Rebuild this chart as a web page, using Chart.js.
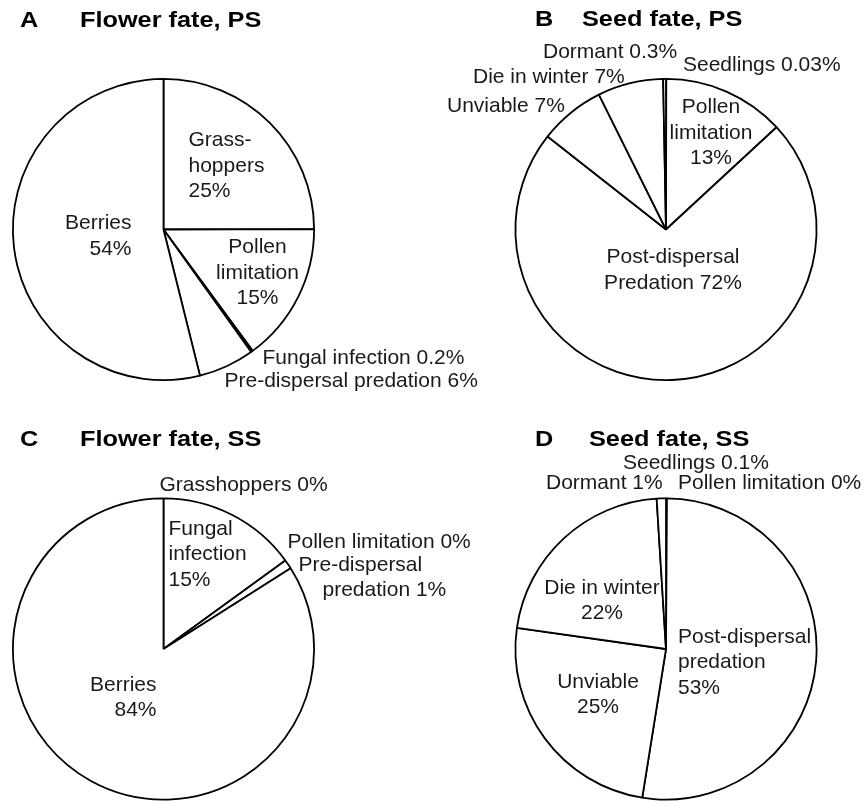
<!DOCTYPE html>
<html>
<head>
<meta charset="utf-8">
<script src="https://cdn.jsdelivr.net/npm/chart.js@4.4.1/dist/chart.umd.min.js"></script>
<style>
  html, body { margin: 0; padding: 0; background: #fff; }
  #fig { position: relative; width: 863px; height: 801px; }
  .panel { position: absolute; left: 0; top: 0; width: 863px; height: 801px; }
</style>
</head>
<body>
<div id="fig">
  <div class="panel"><canvas id="chartA"></canvas></div>
  <div class="panel"><canvas id="chartB"></canvas></div>
  <div class="panel"><canvas id="chartC"></canvas></div>
  <div class="panel"><canvas id="chartD"></canvas></div>
</div>
<script>
// Slices go clockwise from 12 o'clock
const flowerPSCategories = ['Grasshoppers', 'Pollen limitation', 'Fungal infection', 'Pre-dispersal predation', 'Berries'];
const flowerPSValues = [25, 15, 0.2, 6, 54];
const flowerPSText = [['Grass-', 'hoppers', '25%'], ['Pollen', 'limitation', '15%'], ['Fungal infection 0.2%'], ['Pre-dispersal predation 6%'], ['Berries', '54%']];

const seedPSCategories = ['Seedlings', 'Pollen limitation', 'Post-dispersal predation', 'Unviable', 'Die in winter', 'Dormant'];
const seedPSValues = [0.03, 13, 72, 7, 7, 0.3];
const seedPSText = [['Seedlings 0.03%'], ['Pollen', 'limitation', '13%'], ['Post-dispersal', 'Predation 72%'], ['Unviable 7%'], ['Die in winter 7%'], ['Dormant 0.3%']];

const flowerSSCategories = ['Grasshoppers', 'Fungal infection', 'Pollen limitation', 'Pre-dispersal predation', 'Berries'];
const flowerSSValues = [0, 15, 0, 1, 84];
const flowerSSText = [['Grasshoppers 0%'], ['Fungal', 'infection', '15%'], ['Pollen limitation 0%'], ['Pre-dispersal', 'predation 1%'], ['Berries', '84%']];

const seedSSCategories = ['Pollen limitation', 'Seedlings', 'Post-dispersal predation', 'Unviable', 'Die in winter', 'Dormant'];
const seedSSValues = [0, 0.1, 53, 25, 22, 1];
const seedSSText = [['Pollen limitation 0%'], ['Seedlings 0.1%'], ['Post-dispersal', 'predation', '53%'], ['Unviable', '25%'], ['Die in winter', '22%'], ['Dormant 1%']];

// where each label sits, relative to the pie centre
const flowerPSPlaces = [
  { dx: 25, dy: -89, align: 'left' },
  { dx: 94, dy: 18, align: 'center' },
  { dx: 99, dy: 129, align: 'left' },
  { dx: 61, dy: 152, align: 'left' },
  { dx: -32, dy: -6, align: 'right' }
];
const seedPSPlaces = [
  { dx: 17, dy: -164, align: 'left' },
  { dx: 45, dy: -122, align: 'center' },
  { dx: 7, dy: 28, align: 'center' },
  { dx: -219, dy: -123, align: 'left' },
  { dx: -193, dy: -152, align: 'left' },
  { dx: -123, dy: -177, align: 'left' }
];
const flowerSSPlaces = [
  { dx: -4, dy: -164, align: 'left' },
  { dx: 5, dy: -120, align: 'left' },
  { dx: 124, dy: -107, align: 'left' },
  { dx: 135, dy: -84, align: 'left', indent: [0, 24] },
  { dx: -7, dy: 36, align: 'right' }
];
const seedSSPlaces = [
  { dx: 12, dy: -166, align: 'left' },
  { dx: -43, dy: -186, align: 'left' },
  { dx: 12, dy: -12, align: 'left' },
  { dx: -68, dy: 33, align: 'center' },
  { dx: -64, dy: -61, align: 'center' },
  { dx: -120, dy: -166, align: 'left' }
];

const LINE_H = 25.5;

// draws a bold, slightly widened heading
function wideText(ctx, text, x, y) {
  ctx.save();
  ctx.translate(x, y);
  ctx.scale(1.15, 1);
  ctx.fillText(text, 0, 0);
  ctx.restore();
}

const pieText = {
  id: 'pieText',
  afterDatasetsDraw(chart, args, opts) {
    const ctx = chart.ctx;
    const first = chart.getDatasetMeta(0).data[0];
    const cx = first.x, cy = first.y;
    ctx.save();
    ctx.textBaseline = 'middle';
    ctx.textAlign = 'left';
    ctx.fillStyle = '#000';
    ctx.font = 'bold 22px "Liberation Sans", Arial, sans-serif';
    wideText(ctx, opts.letter, opts.letterX, opts.titleY);
    wideText(ctx, opts.title, opts.titleX, opts.titleY);
    ctx.font = '21px "Liberation Sans", Arial, sans-serif';
    ctx.fillStyle = '#1a1a1a';
    opts.texts.forEach((lines, i) => {
      const p = opts.places[i];
      ctx.textAlign = p.align;
      lines.forEach((line, j) => {
        const indent = p.indent ? (p.indent[j] || 0) : 0;
        ctx.fillText(line, cx + p.dx + indent, cy + p.dy + j * LINE_H);
      });
    });
    ctx.restore();
  }
};

function makePie(id, categories, values, texts, places, head, padding) {
  const ctx = document.getElementById(id).getContext('2d');
  return new Chart(ctx, {
    type: 'pie',
    data: {
      labels: categories,
      datasets: [{
        data: values,
        backgroundColor: '#ffffff',
        borderColor: '#000000',
        borderWidth: 1.8,
        hoverOffset: 0,
        offset: 0
      }]
    },
    options: {
      responsive: true,
      maintainAspectRatio: false,
      animation: false,
      events: [],
      layout: { padding: padding },
      plugins: {
        legend: { display: false },
        tooltip: { enabled: false },
        pieText: {
          letter: head.letter, title: head.title,
          letterX: head.letterX, titleX: head.titleX, titleY: head.titleY,
          texts: texts, places: places
        }
      }
    },
    plugins: [pieText]
  });
}

makePie('chartA', flowerPSCategories, flowerPSValues, flowerPSText, flowerPSPlaces,
  { letter: 'A', title: 'Flower fate, PS', letterX: 20, titleX: 80, titleY: 21 },
  { left: 12, top: 78, right: 548, bottom: 420 });
makePie('chartB', seedPSCategories, seedPSValues, seedPSText, seedPSPlaces,
  { letter: 'B', title: 'Seed fate, PS', letterX: 535, titleX: 582, titleY: 20 },
  { left: 514.5, top: 78, right: 45.5, bottom: 420 });
makePie('chartC', flowerSSCategories, flowerSSValues, flowerSSText, flowerSSPlaces,
  { letter: 'C', title: 'Flower fate, SS', letterX: 20, titleX: 80, titleY: 440 },
  { left: 12, top: 497.5, right: 548, bottom: 0.5 });
makePie('chartD', seedSSCategories, seedSSValues, seedSSText, seedSSPlaces,
  { letter: 'D', title: 'Seed fate, SS', letterX: 535, titleX: 589, titleY: 440 },
  { left: 514.5, top: 497.5, right: 45.5, bottom: 0.5 });
</script>
</body>
</html>
